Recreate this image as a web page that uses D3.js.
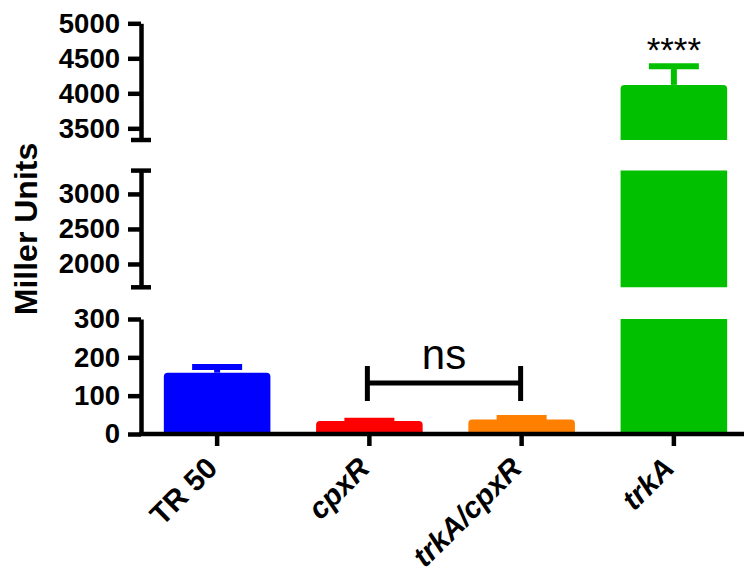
<!DOCTYPE html>
<html>
<head>
<meta charset="utf-8">
<script src="https://cdn.jsdelivr.net/npm/d3@7"></script>
<style>
	body { margin: 0; background: #fff; }
	svg { display: block; font-family: Arial, "Liberation Sans", sans-serif; }
</style>
</head>
<body>
<div id="chart"></div>
<script>
// data
var categories = ['TR 50', 'cpxR', 'trkA/cpxR', 'trkA'];
var italicLabels = [false, true, true, true];
var means = [160, 34, 38, 4120];
var errors = [15, 0.5, 4, 265];
var colors = ['#0000ff', '#ff0000', '#ff8000', '#00c000'];

// broken y axis: value domain of each segment and its ticks
var segmentDomains = [[0, 300], [1667, 3333], [3333, 5000]];
var segmentTicks = [[0, 100, 200, 300], [2000, 2500, 3000], [3500, 4000, 4500, 5000]];
var segmentCaps = [[false, false], [true, true], [true, false]]; // [bottom, top]

var significance = [{ from: 1, to: 2, label: 'ns' }];
var stars = [{ index: 3, label: '****' }];

var width = 744, height = 576;
var axisX = 141, axisY = 434;
var segmentRanges = [[434, 319], [287.3, 170.6], [140, 23.3]];

var svg = d3.select('#chart').append('svg')
	.attr('width', width)
	.attr('height', height);

var x = d3.scaleBand()
	.domain(categories)
	.range([axisX, 750])
	.paddingInner(0.3)
	.paddingOuter(0.15);

var yScales = segmentDomains.map(function(dom, i) {
	return d3.scaleLinear().domain(dom).range(segmentRanges[i]);
});

var data = categories.map(function(c, i) {
	return { name: c, value: means[i], err: errors[i], color: colors[i], italic: italicLabels[i] };
});

// bar piece with rounded top corners when the bar ends inside the segment
function barPath(x0, x1, yBottom, yTop, rounded) {
	var r = rounded ? 4 : 0;
	return 'M' + x0 + ',' + yBottom +
		'L' + x0 + ',' + (yTop + r) +
		'Q' + x0 + ',' + yTop + ' ' + (x0 + r) + ',' + yTop +
		'L' + (x1 - r) + ',' + yTop +
		'Q' + x1 + ',' + yTop + ' ' + x1 + ',' + (yTop + r) +
		'L' + x1 + ',' + yBottom + 'Z';
}

var bars = svg.append('g');
yScales.forEach(function(y, s) {
	var dom = y.domain();
	data.forEach(function(d) {
		if (d.value <= dom[0]) return;
		var top = Math.min(d.value, dom[1]);
		var x0 = x(d.name), x1 = x0 + x.bandwidth();
		bars.append('path')
			.attr('d', barPath(x0, x1, y(dom[0]), y(top), d.value <= dom[1]))
			.attr('fill', d.color);

		// upper error bar, in the bar's colour
		var hi = d.value + d.err;
		if (d.value <= dom[1] && hi <= dom[1]) {
			var cx = x0 + x.bandwidth() / 2;
			bars.append('line')
				.attr('x1', cx).attr('x2', cx)
				.attr('y1', y(d.value)).attr('y2', y(hi))
				.attr('stroke', d.color).attr('stroke-width', 6);
			bars.append('line')
				.attr('x1', cx - 25).attr('x2', cx + 25)
				.attr('y1', y(hi)).attr('y2', y(hi))
				.attr('stroke', d.color).attr('stroke-width', 6);
		}
	});
});

// y axis segments
yScales.forEach(function(y, s) {
	var g = svg.append('g')
		.attr('transform', 'translate(' + axisX + ',0)')
		.call(d3.axisLeft(y).tickValues(segmentTicks[s]).tickFormat(d3.format('d'))
			.tickSize(13).tickPadding(8).tickSizeOuter(0));
	g.select('.domain').attr('stroke-width', 4.5);
	g.selectAll('.tick line').attr('stroke-width', 4.5);
	g.selectAll('.tick text')
		.attr('font-size', 27.5)
		.attr('font-weight', 'bold')
		.attr('fill', '#000')
		.attr('font-family', 'Arial, "Liberation Sans", sans-serif');
	var r = y.range();
	segmentCaps[s].forEach(function(cap, k) {
		if (!cap) return;
		g.append('line')
			.attr('x1', -10).attr('x2', 10)
			.attr('y1', r[k]).attr('y2', r[k])
			.attr('stroke', '#000').attr('stroke-width', 4.5);
	});
});

// x axis
var gx = svg.append('g')
	.attr('transform', 'translate(0,' + axisY + ')')
	.call(d3.axisBottom(x).tickSize(12).tickSizeOuter(0).tickFormat(''));
gx.select('.domain').attr('d', 'M' + (axisX - 2) + ',0H' + width).attr('stroke-width', 4.5);
gx.selectAll('.tick line').attr('stroke-width', 4.5);

svg.append('g').selectAll('text')
	.data(data)
	.join('text')
	.attr('transform', function(d) {
		return 'translate(' + (x(d.name) + x.bandwidth() / 2 + 2) + ',' + 470 + ') rotate(-45)';
	})
	.attr('text-anchor', 'end')
	.attr('font-size', 29.5)
	.attr('font-weight', 'bold')
	.attr('font-style', function(d) { return d.italic ? 'italic' : 'normal'; })
	.text(function(d) { return d.name; });

// y title
svg.append('text')
	.attr('transform', 'translate(37,229) rotate(-90)')
	.attr('text-anchor', 'middle')
	.attr('font-size', 32)
	.attr('font-weight', 'bold')
	.text('Miller Units');

// significance bracket
var yLow = yScales[0];
significance.forEach(function(b) {
	var xa = x(categories[b.from]) + x.bandwidth() / 2 - 2;
	var xb = x(categories[b.to]) + x.bandwidth() / 2 - 1;
	var yb = yLow(133);
	var g = svg.append('g').attr('stroke', '#000').attr('stroke-width', 5);
	g.append('line').attr('x1', xa).attr('x2', xb).attr('y1', yb).attr('y2', yb);
	g.append('line').attr('x1', xa).attr('x2', xa).attr('y1', yb - 17).attr('y2', yb + 18);
	g.append('line').attr('x1', xb).attr('x2', xb).attr('y1', yb - 17).attr('y2', yb + 18);
	svg.append('text')
		.attr('x', (xa + xb) / 2)
		.attr('y', yb - 14)
		.attr('text-anchor', 'middle')
		.attr('font-size', 42)
		.text(b.label);
});

// stars above trkA
stars.forEach(function(st) {
	var d = data[st.index];
	svg.append('text')
		.attr('x', x(d.name) + x.bandwidth() / 2)
		.attr('y', 62)
		.attr('text-anchor', 'middle')
		.attr('font-size', 35)
		.text(st.label);
});
</script>
</body>
</html>
